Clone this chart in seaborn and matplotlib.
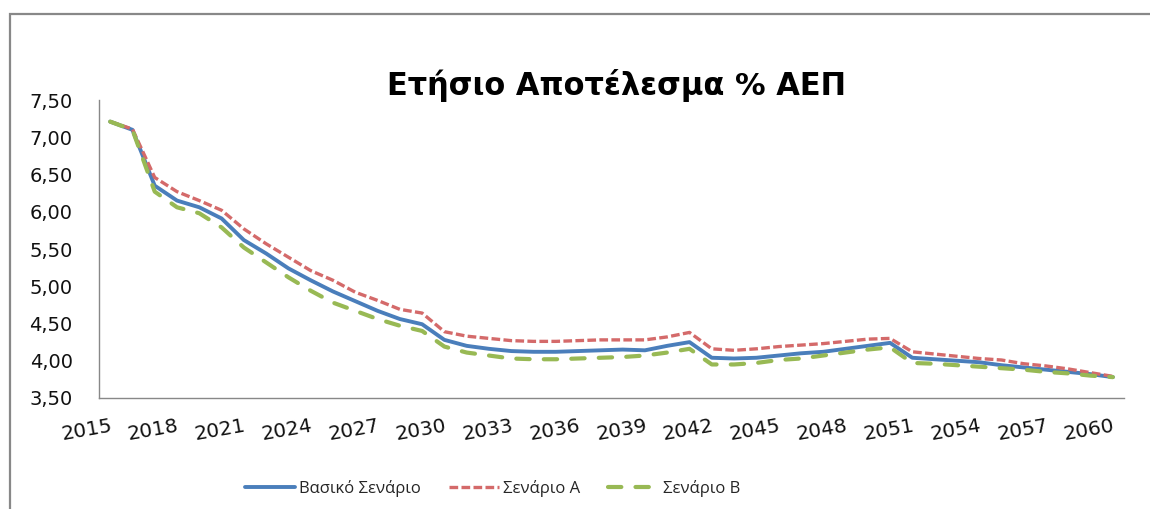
import numpy as np
import pandas as pd
import matplotlib
matplotlib.use('Agg')
import matplotlib.pyplot as plt
import seaborn as sns
from matplotlib.patches import Rectangle

years = list(range(2015, 2061))

vasiko = [7.21, 7.10, 6.35, 6.15, 6.06, 5.91, 5.62, 5.44, 5.24, 5.08,
          4.93, 4.80, 4.67, 4.56, 4.49, 4.28, 4.20, 4.16, 4.13, 4.12,
          4.12, 4.13, 4.14, 4.15, 4.14, 4.20, 4.25, 4.04, 4.03, 4.04,
          4.07, 4.10, 4.12, 4.16, 4.20, 4.24, 4.04, 4.02, 4.00, 3.98,
          3.94, 3.91, 3.88, 3.85, 3.82, 3.78]
senario_a = [7.21, 7.11, 6.46, 6.27, 6.15, 6.02, 5.77, 5.57, 5.39, 5.21,
             5.08, 4.92, 4.81, 4.69, 4.64, 4.39, 4.33, 4.30, 4.27, 4.26,
             4.26, 4.27, 4.28, 4.28, 4.28, 4.32, 4.38, 4.16, 4.14, 4.16,
             4.19, 4.21, 4.23, 4.26, 4.29, 4.30, 4.12, 4.09, 4.06, 4.03,
             4.01, 3.96, 3.93, 3.89, 3.84, 3.79]
senario_b = [7.21, 7.10, 6.27, 6.06, 5.98, 5.79, 5.52, 5.32, 5.12, 4.94,
             4.78, 4.67, 4.56, 4.47, 4.40, 4.19, 4.11, 4.07, 4.03, 4.02,
             4.02, 4.03, 4.04, 4.05, 4.07, 4.11, 4.16, 3.95, 3.95, 3.97,
             4.01, 4.03, 4.07, 4.11, 4.15, 4.18, 3.97, 3.96, 3.94, 3.92,
             3.90, 3.88, 3.85, 3.83, 3.80, 3.78]

series_names = ['Βασικό Σενάριο', 'Σενάριο A', 'Σενάριο B']
title = 'Ετήσιο Αποτέλεσμα % ΑΕΠ'
ytick_vals = [3.5, 4.0, 4.5, 5.0, 5.5, 6.0, 6.5, 7.0, 7.5]
ytick_labels = ['3,50', '4,00', '4,50', '5,00', '5,50', '6,00', '6,50', '7,00', '7,50']
xtick_years = list(range(2015, 2061, 3))

df = pd.DataFrame({'year': years, series_names[0]: vasiko,
                   series_names[1]: senario_a, series_names[2]: senario_b})

sns.set_style('white')
plt.rcParams['font.family'] = ['Open Sans', 'DejaVu Sans']

fig = plt.figure(figsize=(11.5, 5.09), dpi=100)
ax = fig.add_axes([0.0861, 0.2181, 0.8913, 0.5854])

sns.lineplot(data=df, x='year', y=series_names[0], ax=ax, color='#4A7EBB',
             linewidth=2.8, label=series_names[0])
sns.lineplot(data=df, x='year', y=series_names[1], ax=ax, color='#D46A6A',
             linewidth=2.4, linestyle=(0, (2.6, 1.0)), label=series_names[1])
sns.lineplot(data=df, x='year', y=series_names[2], ax=ax, color='#98B954',
             linewidth=3.0, linestyle=(0, (3.2, 3.4)), dash_capstyle='round',
             label=series_names[2])

ax.set_xlim(2014.5, 2060.5)
ax.set_ylim(3.5, 7.5)
ax.set_yticks(ytick_vals)
ax.set_yticklabels(ytick_labels, fontfamily='DejaVu Sans')
ax.set_xticks(xtick_years)
ax.set_xticklabels([str(y) for y in xtick_years], rotation=10, ha='right',
                   rotation_mode='anchor', fontfamily='DejaVu Sans')
ax.tick_params(axis='y', length=0, pad=19, labelsize=14, colors='#111111')
ax.tick_params(axis='x', length=0, pad=13, labelsize=14.5, colors='#111111')
ax.set_xlabel('')
ax.set_ylabel('')
for s in ['top', 'right']:
    ax.spines[s].set_visible(False)
for s in ['left', 'bottom']:
    ax.spines[s].set_color('#888888')
    ax.spines[s].set_linewidth(1.0)

fig.text(0.536, 0.833, title, ha='center', va='center', fontsize=22,
         fontweight='bold', color='#000000', fontfamily='DejaVu Sans')

ax.get_legend().remove()
handles, labels = ax.get_legend_handles_labels()
fig.legend(handles, labels, loc='center', bbox_to_anchor=(0.428, 0.041), ncol=3,
           frameon=False, fontsize=12, handlelength=3.0, columnspacing=1.7,
           handletextpad=0.25)

fig.add_artist(Rectangle((10 / 1150, -0.1), 1.2, 1 - 14 / 509 + 0.1,
                         transform=fig.transFigure, fill=False,
                         edgecolor='#888888', linewidth=1.6, clip_on=False))

fig.savefig('out.png', dpi=100)
